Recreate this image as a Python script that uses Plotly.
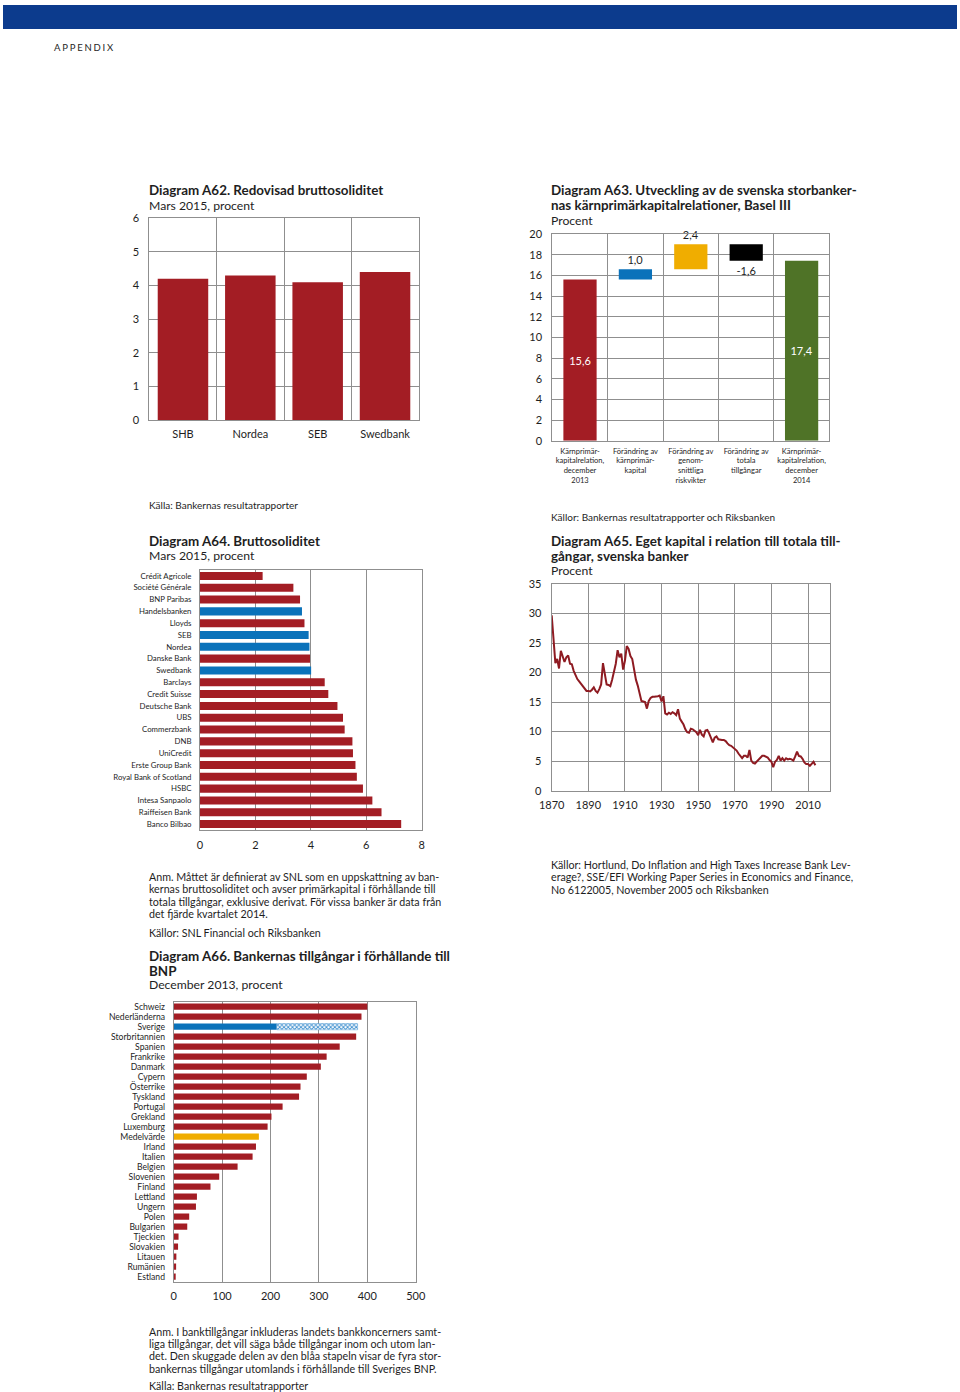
import plotly.graph_objects as go

W, H = 960, 1392
def px(x): return x / W
def py(y): return 1 - y / H

FONT = "Lato"
RED = "#a31d24"
BLUE = "#0a72ba"
YELLOW = "#f0ad00"
GREEN = "#4f7327"
GRID = "#8f8f8f"
TXT = "#1e1e1e"

# ---------------- data ----------------
# A62
a62_banks = ["SHB", "Nordea", "SEB", "Swedbank"]
a62_values = [4.2, 4.3, 4.1, 4.4]

# A63 (waterfall)
a63_categories = [
    "Kärnprimär-<br>kapitalrelation,<br>december<br>2013",
    "Förändring av<br>kärnprimär-<br>kapital",
    "Förändring av<br>genom-<br>snittliga<br>riskvikter",
    "Förändring av<br>totala<br>tillgångar",
    "Kärnprimär-<br>kapitalrelation,<br>december<br>2014",
]
a63_values = [15.6, 1.0, 2.4, -1.6, 17.4]
a63_kinds = ["total", "delta", "delta", "delta", "total"]
a63_colors = [RED, BLUE, YELLOW, "#000000", GREEN]

# A64
a64_banks = ["Crédit Agricole", "Société Générale", "BNP Paribas", "Handelsbanken",
             "Lloyds", "SEB", "Nordea", "Danske Bank", "Swedbank", "Barclays",
             "Credit Suisse", "Deutsche Bank", "UBS", "Commerzbank", "DNB",
             "UniCredit", "Erste Group Bank", "Royal Bank of Scotland", "HSBC",
             "Intesa Sanpaolo", "Raiffeisen Bank", "Banco Bilbao"]
a64_values = [2.26, 3.37, 3.61, 3.68, 3.77, 3.92, 3.95, 3.97, 4.01, 4.50,
              4.63, 4.96, 5.16, 5.22, 5.50, 5.52, 5.61, 5.66, 5.88, 6.22,
              6.55, 7.26]
a64_swedish = {"Handelsbanken", "SEB", "Nordea", "Swedbank"}

# A65
a65_years = list(range(1870, 2015))
a65_values = [
    29.7, 25.0, 21.6, 22.3, 20.7, 23.7, 22.8, 21.8, 22.6, 22.9,   # 1870-1879
    21.5, 21.4, 20.3, 19.5, 18.9, 18.5, 18.1, 17.7, 17.3, 16.9,   # 1880-1889
    16.9, 16.8, 17.1, 17.5, 16.9, 16.6, 17.2, 18.0, 21.6, 19.5,   # 1890-1899
    18.0, 17.9, 17.7, 18.8, 20.3, 21.5, 23.8, 22.6, 23.2, 20.5,   # 1900-1909
    22.0, 24.5, 24.0, 22.8, 22.3, 20.5, 18.8, 17.8, 16.2, 15.2,   # 1910-1919
    15.1, 15.0, 13.9, 15.2, 15.7, 15.9, 15.9, 15.9, 16.0, 16.1,   # 1920-1929
    15.1, 16.0, 13.1, 12.9, 13.2, 13.0, 13.3, 13.1, 12.8, 13.8,   # 1930-1939
    12.2, 11.7, 11.2, 10.4, 9.9, 9.8, 10.5, 10.4, 10.1, 9.9,      # 1940-1949
    9.4, 10.3, 9.5, 9.2, 10.2, 10.3, 9.7, 9.0, 8.2, 9.0,          # 1950-1959
    9.2, 8.7, 8.6, 8.6, 8.6, 8.4, 8.0, 7.7, 7.6, 7.3,             # 1960-1969
    7.1, 6.8, 6.3, 5.8, 5.5, 5.9, 5.9, 5.6, 6.9, 5.1,             # 1970-1979
    4.7, 4.6, 4.9, 5.2, 5.6, 5.9, 5.9, 5.8, 5.6, 5.2,             # 1980-1989
    4.9, 4.0, 4.9, 5.2, 5.9, 5.1, 5.5, 5.1, 5.5, 5.3,             # 1990-1999
    5.4, 5.3, 5.1, 5.8, 6.6, 5.9, 5.8, 5.4, 4.8, 4.5,             # 2000-2009
    4.5, 4.2, 4.6, 4.9, 4.3,                                      # 2010-2014
]

# A66
a66_countries = ["Schweiz", "Nederländerna", "Sverige", "Storbritannien", "Spanien",
                 "Frankrike", "Danmark", "Cypern", "Österrike", "Tyskland", "Portugal",
                 "Grekland", "Luxemburg", "Medelvärde", "Irland", "Italien", "Belgien",
                 "Slovenien", "Finland", "Lettland", "Ungern", "Polen", "Bulgarien",
                 "Tjeckien", "Slovakien", "Litauen", "Rumänien", "Estland"]
a66_values = [400, 388, 213, 377, 343, 316, 304, 275, 262, 259, 225, 202, 194, 176,
              170, 163, 132, 94, 76, 48, 46, 32, 28, 10, 9, 5.5, 5, 3.5]
a66_sverige_abroad = 167

# ---------------- figure ----------------
fig = go.Figure()

fig.add_trace(go.Bar(x=a62_banks, y=a62_values, marker_color=RED, width=0.75,
                     xaxis="x", yaxis="y", showlegend=False))

bases = []
running = 0.0
for v, k in zip(a63_values, a63_kinds):
    if k == "total":
        bases.append(0.0)
        running = v
    else:
        bases.append(running)
        running += v
a63_text = [f"{v:.1f}".replace(".", ",") for v in a63_values]
fig.add_trace(go.Bar(x=a63_categories, y=a63_values, base=bases,
                     marker_color=a63_colors, width=0.6,
                     text=a63_text,
                     textposition=["inside", "outside", "outside", "outside", "inside"],
                     insidetextanchor="middle", constraintext="none", cliponaxis=False,
                     insidetextfont=dict(color="white", size=11, family=FONT),
                     outsidetextfont=dict(color=TXT, size=11, family=FONT),
                     xaxis="x2", yaxis="y2", showlegend=False))

fig.add_trace(go.Bar(y=a64_banks, x=a64_values, orientation="h",
                     marker_color=[BLUE if b in a64_swedish else RED for b in a64_banks],
                     width=0.68, xaxis="x3", yaxis="y3", showlegend=False))

fig.add_trace(go.Scatter(x=a65_years, y=a65_values, mode="lines",
                         line=dict(color="#8e1b22", width=2),
                         xaxis="x4", yaxis="y4", showlegend=False))

a66_colors = [BLUE if c == "Sverige" else (YELLOW if c == "Medelvärde" else RED)
              for c in a66_countries]
fig.add_trace(go.Bar(y=a66_countries, x=a66_values, orientation="h",
                     marker_color=a66_colors, width=0.62,
                     xaxis="x5", yaxis="y5", showlegend=False))
sv_idx = a66_countries.index("Sverige")
fig.add_trace(go.Bar(y=["Sverige"], x=[a66_sverige_abroad], base=[a66_values[sv_idx]],
                     orientation="h", width=0.62,
                     marker=dict(color="white",
                                 pattern=dict(shape="x", fgcolor="#3d8fcf", bgcolor="white",
                                              size=3, solidity=0.5),
                                 line=dict(color="#5aa0d6", width=0.5)),
                     xaxis="x5", yaxis="y5", showlegend=False))

def frame(**kw):
    d = dict(showline=True, mirror=True, linecolor=GRID, linewidth=1,
             gridcolor=GRID, gridwidth=1, zeroline=False, ticks="",
             automargin=False,
             tickfont=dict(size=11, color=TXT, family=FONT), fixedrange=True)
    d.update(kw)
    return d

fig.update_layout(
    template="none",
    width=W, height=H, margin=dict(l=0, r=0, t=0, b=0, autoexpand=False),
    paper_bgcolor="white", plot_bgcolor="white",
    font=dict(family=FONT, color=TXT), barmode="overlay", showlegend=False,
    # A62
    xaxis=frame(domain=[px(149.3), px(418.7)], anchor="y", type="category",
                tickson="boundaries", showgrid=True, ticklabelstandoff=4, tickangle=0),
    yaxis=frame(domain=[py(420), py(218.3)], anchor="x", range=[0, 6], dtick=1,
                showgrid=True, ticklabelstandoff=7),
    # A63
    xaxis2=frame(domain=[px(552.3), px(829.3)], anchor="y2", type="category",
                 tickson="boundaries", showgrid=True, tickangle=0,
                 tickfont=dict(size=7.5, color=TXT, family=FONT), ticklabelstandoff=3),
    yaxis2=frame(domain=[py(440.7), py(234)], anchor="x2", range=[0, 20], dtick=2,
                 showgrid=True, ticklabelstandoff=7),
    # A64
    xaxis3=frame(domain=[px(200), px(421.7)], anchor="y3", range=[0, 8], dtick=2,
                 showgrid=True, ticklabelstandoff=5, tickangle=0),
    yaxis3=frame(domain=[py(830), py(570)], anchor="x3", type="category",
                 autorange="reversed", showgrid=False, tickmode="linear", dtick=1,
                 tickfont=dict(size=7.8, color=TXT, family=FONT), ticklabelstandoff=6),
    # A65
    xaxis4=frame(domain=[px(551.7), px(830)], anchor="y4", range=[1870, 2022],
                 tick0=1870, dtick=20, showgrid=True, ticklabelstandoff=4, tickangle=0),
    yaxis4=frame(domain=[py(790.7), py(584)], anchor="x4", range=[0, 35], dtick=5,
                 showgrid=True, ticklabelstandoff=7),
    # A66
    xaxis5=frame(domain=[px(173.7), px(415.7)], anchor="y5", range=[0, 500], dtick=100,
                 showgrid=True, ticklabelstandoff=4, tickangle=0),
    yaxis5=frame(domain=[py(1281.7), py(1001.7)], anchor="x5", type="category",
                 autorange="reversed", showgrid=False, tickmode="linear", dtick=1,
                 tickfont=dict(size=8.6, color=TXT, family=FONT), ticklabelstandoff=6),
)

# header band
fig.add_shape(type="rect", xref="paper", yref="paper",
              x0=px(3), x1=px(957), y0=py(29), y1=py(5),
              fillcolor="#0c3b8d", line=dict(width=0), layer="above")

ann = []
def text(t, x, y, size=10.5, bold=False, color=TXT):
    if bold:
        t = f"<b>{t}</b>"
    ann.append(dict(text=t, x=px(x - 2), y=py(y), xref="paper", yref="paper",
                    xanchor="left", yanchor="middle", showarrow=False,
                    font=dict(size=size, family=FONT, color=color)))

def lines(items, x, y0, step, size=10.5, bold=False):
    for i, t in enumerate(items):
        text(t, x, y0 + i * step, size=size, bold=bold)

text("A\u2009\u200aP\u2009\u200aP\u2009\u200aE\u2009\u200aN\u2009\u200aD\u2009\u200aI\u2009\u200aX",
     54, 48, size=9.5)

TS = 13.4
SS = 12.2
NS = 10.7
# A62
text("Diagram A62. Redovisad bruttosoliditet", 149, 190, size=TS, bold=True)
text("Mars 2015, procent", 149, 205, size=SS)
text("Källa: Bankernas resultatrapporter", 149, 505, size=10)
# A63
lines(["Diagram A63. Utveckling av de svenska storbanker-",
       "nas kärnprimärkapitalrelationer, Basel III"], 551, 190, 15, size=TS, bold=True)
text("Procent", 551, 220, size=SS)
text("Källor: Bankernas resultatrapporter och Riksbanken", 551, 517, size=10)
# A64
text("Diagram A64. Bruttosoliditet", 149, 541, size=TS, bold=True)
text("Mars 2015, procent", 149, 556, size=SS)
lines(["Anm. Måttet är definierat av SNL som en uppskattning av ban-",
       "kernas bruttosoliditet och avser primärkapital i förhållande till",
       "totala tillgångar, exklusive derivat. För vissa banker är data från",
       "det fjärde kvartalet 2014."], 149, 876, 12.6, size=NS)
text("Källor: SNL Financial och Riksbanken", 149, 932, size=NS)
# A65
lines(["Diagram A65. Eget kapital i relation till totala till-",
       "gångar, svenska banker"], 551, 541, 15, size=TS, bold=True)
text("Procent", 551, 570, size=SS)
lines(["Källor: Hortlund, Do Inflation and High Taxes Increase Bank Lev-",
       "erage?, SSE/EFI Working Paper Series in Economics and Finance,",
       "No 6122005, November 2005 och Riksbanken"], 551, 864, 12.6, size=NS)
# A66
lines(["Diagram A66. Bankernas tillgångar i förhållande till", "BNP"],
      149, 956, 14.5, size=TS, bold=True)
text("December 2013, procent", 149, 985, size=SS)
lines(["Anm. I banktillgångar inkluderas landets bankkoncerners samt-",
       "liga tillgångar, det vill säga både tillgångar inom och utom lan-",
       "det. Den skuggade delen av den blåa stapeln visar de fyra stor-",
       "bankernas tillgångar utomlands i förhållande till Sveriges BNP."],
      149, 1331, 12.4, size=NS)
text("Källa: Bankernas resultatrapporter", 149, 1385, size=NS)

fig.update_layout(annotations=ann)
fig.write_html("out.html", config={"displayModeBar": False},
               post_script="document.body.style.margin='0';document.body.style.overflow='hidden';")
